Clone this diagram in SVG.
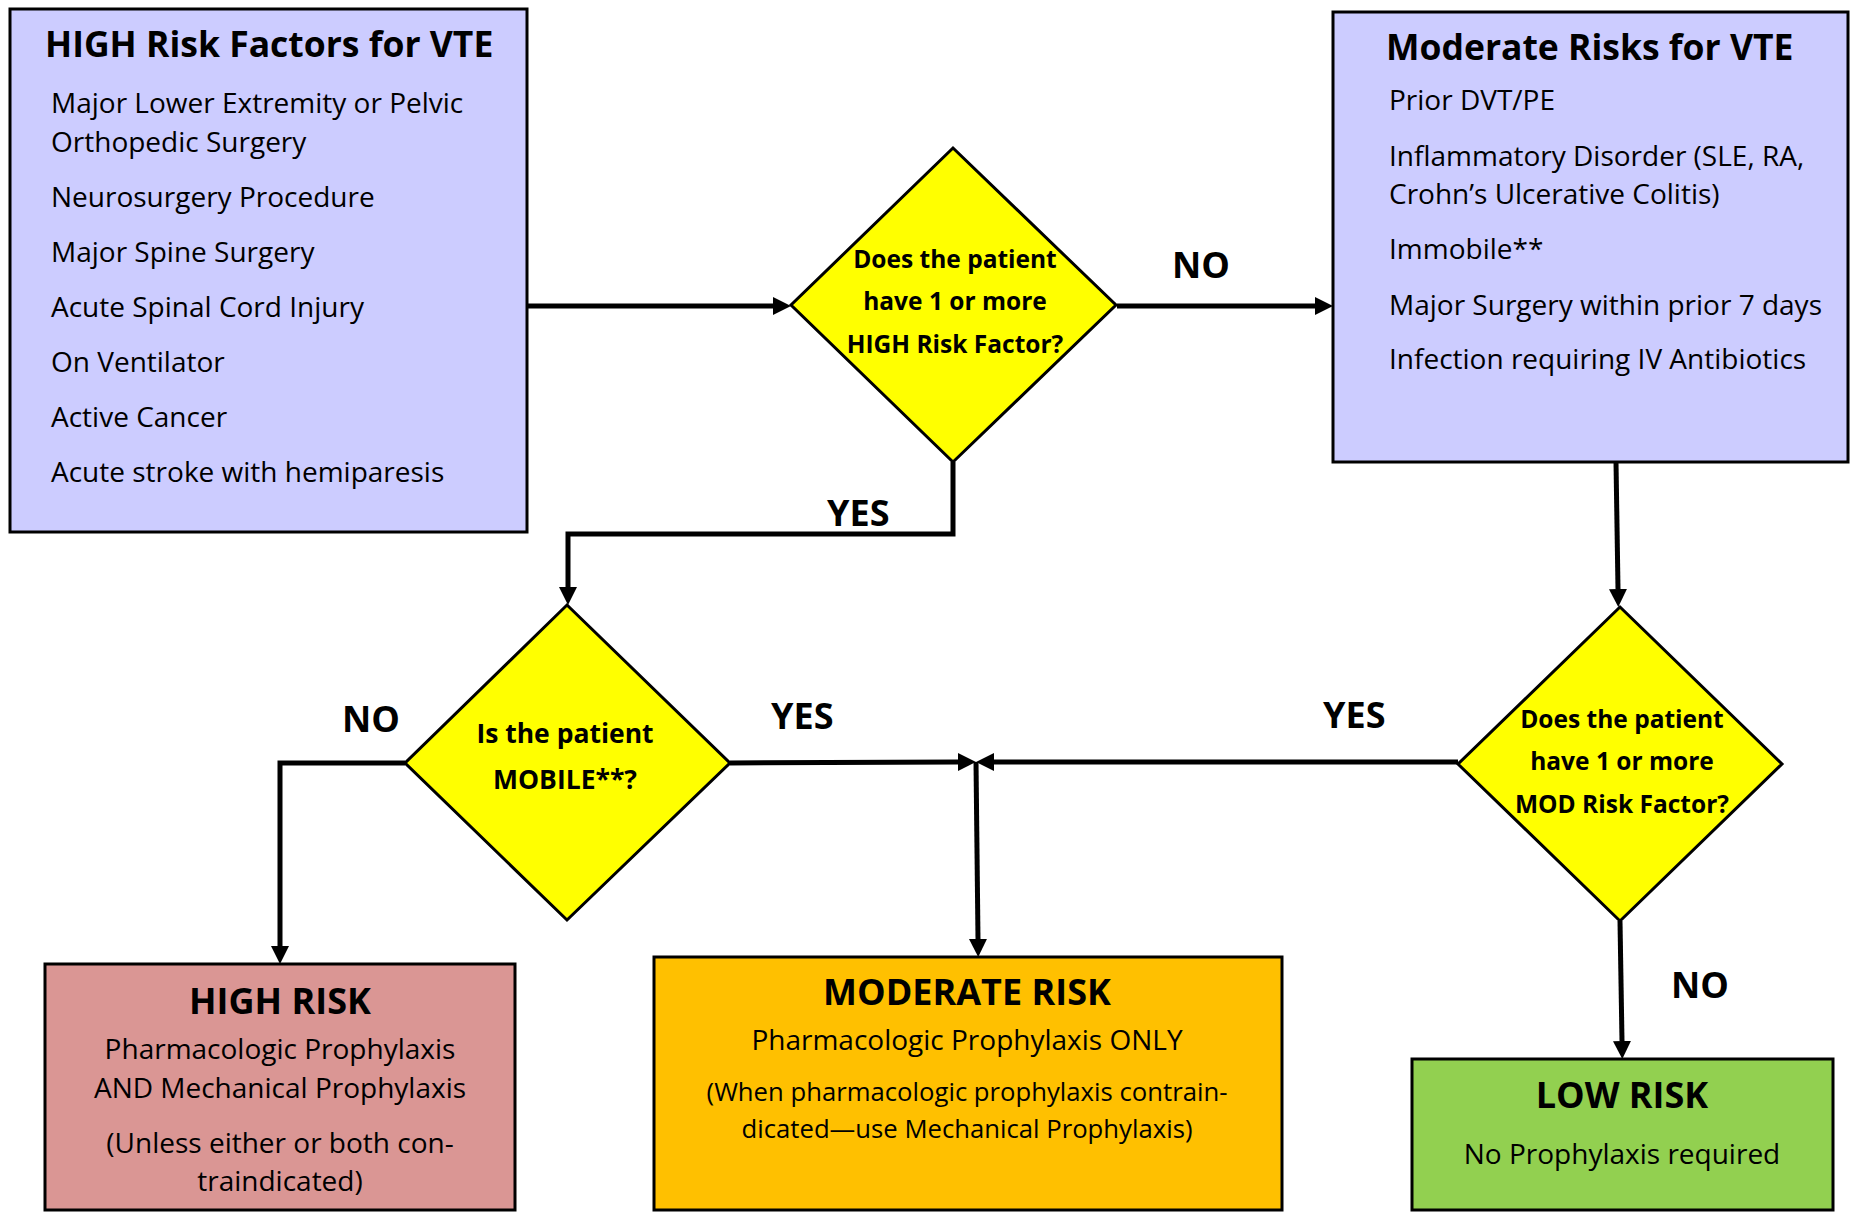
<svg xmlns="http://www.w3.org/2000/svg" width="1853" height="1213" viewBox="0 0 1853 1213">
<style>
.box{stroke:#000;stroke-width:3}
.dia{fill:#FFFF00;stroke:#000;stroke-width:3}
.t{font-family:"Open Sans","Liberation Sans",sans-serif;fill:#000}
.title{font-size:35.5px;font-weight:bold}
.body{font-size:28px}
.small{font-size:25.7px}
.q{font-size:24.5px;font-weight:bold;text-anchor:middle}
.qm{font-size:26.5px}
.lbl{font-size:36px;font-weight:bold}
.res{font-size:36px;font-weight:bold;text-anchor:middle}
.c{text-anchor:middle}
.conn{fill:none;stroke:#000;stroke-width:5}
</style>
<defs>
<marker id="arr" markerUnits="userSpaceOnUse" markerWidth="18" markerHeight="18" refX="0" refY="9" orient="auto">
<path d="M0,0 L18,9 L0,18 z" fill="#000"/>
</marker>
</defs>
<rect width="1853" height="1213" fill="#fff"/>

<g id="connectors">
<path class="conn" d="M527,306 H773" marker-end="url(#arr)"/>
<path class="conn" d="M1117,306 H1315" marker-end="url(#arr)"/>
<path class="conn" d="M953,462 V534 H568 V587" marker-end="url(#arr)"/>
<path class="conn" d="M405,763 H280 V946" marker-end="url(#arr)"/>
<path class="conn" d="M730,763 L958,762" marker-end="url(#arr)"/>
<path class="conn" d="M1458,762 H994" marker-end="url(#arr)"/>
<path class="conn" d="M976,762 L978,939" marker-end="url(#arr)"/>
<path class="conn" d="M1616,462 L1618,589" marker-end="url(#arr)"/>
<path class="conn" d="M1620,921 L1622,1041" marker-end="url(#arr)"/>
<text class="t lbl" x="1172" y="278">NO</text>
<text class="t lbl" x="827" y="526">YES</text>
<text class="t lbl" x="342" y="732">NO</text>
<text class="t lbl" x="771" y="729">YES</text>
<text class="t lbl" x="1323" y="728">YES</text>
<text class="t lbl" x="1671" y="998">NO</text>
</g>

<g id="high-factors">
<rect class="box" x="10" y="9" width="517" height="523" fill="#CCCCFF"/>
<text class="t title" x="45" y="57">HIGH Risk Factors for VTE</text>
<text class="t body" x="51" y="113">Major Lower Extremity or Pelvic</text>
<text class="t body" x="51" y="152">Orthopedic Surgery</text>
<text class="t body" x="51" y="207">Neurosurgery Procedure</text>
<text class="t body" x="51" y="262">Major Spine Surgery</text>
<text class="t body" x="51" y="317">Acute Spinal Cord Injury</text>
<text class="t body" x="51" y="372">On Ventilator</text>
<text class="t body" x="51" y="427">Active Cancer</text>
<text class="t body" x="51" y="482">Acute stroke with hemiparesis</text>
</g>

<g id="moderate-factors">
<rect class="box" x="1333" y="12" width="515" height="450" fill="#CCCCFF"/>
<text class="t title" x="1386" y="60">Moderate Risks for VTE</text>
<text class="t body" x="1389" y="110">Prior DVT/PE</text>
<text class="t body" x="1389" y="166">Inflammatory Disorder (SLE, RA,</text>
<text class="t body" x="1389" y="204">Crohn’s Ulcerative Colitis)</text>
<text class="t body" x="1389" y="259">Immobile**</text>
<text class="t body" x="1389" y="315">Major Surgery within prior 7 days</text>
<text class="t body" x="1389" y="369">Infection requiring IV Antibiotics</text>
</g>

<g id="q-high">
<polygon class="dia" points="953,148 1116,305 953,462 791,305"/>
<text class="t q" x="955" y="268">Does the patient</text>
<text class="t q" x="955" y="310">have 1 or more</text>
<text class="t q" x="955" y="353">HIGH Risk Factor?</text>
</g>

<g id="q-mobile">
<polygon class="dia" points="567,605 730,763 567,920 405,763"/>
<text class="t q qm" x="565" y="743">Is the patient</text>
<text class="t q qm" x="565" y="789">MOBILE**?</text>
</g>

<g id="q-mod">
<polygon class="dia" points="1620,607 1782,764 1620,921 1458,764"/>
<text class="t q" x="1622" y="728">Does the patient</text>
<text class="t q" x="1622" y="770">have 1 or more</text>
<text class="t q" x="1622" y="813">MOD Risk Factor?</text>
</g>

<g id="high-risk">
<rect class="box" x="45" y="964" width="470" height="246" fill="#DA9694"/>
<text class="t res" x="280" y="1014">HIGH RISK</text>
<text class="t body c" x="280" y="1059">Pharmacologic Prophylaxis</text>
<text class="t body c" x="280" y="1098">AND Mechanical Prophylaxis</text>
<text class="t body c" x="280" y="1153">(Unless either or both con-</text>
<text class="t body c" x="280" y="1191">traindicated)</text>
</g>

<g id="moderate-risk">
<rect class="box" x="654" y="957" width="628" height="253" fill="#FFC000"/>
<text class="t res" x="967" y="1005">MODERATE RISK</text>
<text class="t body c" x="967" y="1050">Pharmacologic Prophylaxis ONLY</text>
<text class="t small c" x="967" y="1101">(When pharmacologic prophylaxis contrain-</text>
<text class="t small c" x="967" y="1138">dicated—use Mechanical Prophylaxis)</text>
</g>

<g id="low-risk">
<rect class="box" x="1412" y="1059" width="421" height="151" fill="#92D050"/>
<text class="t res" x="1622" y="1108">LOW RISK</text>
<text class="t body c" x="1622" y="1164">No Prophylaxis required</text>
</g>
</svg>
